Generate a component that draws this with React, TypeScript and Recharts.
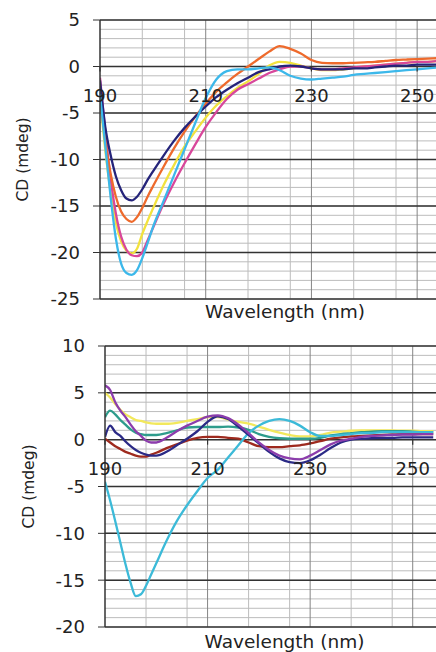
import { LineChart, Line, XAxis, YAxis, CartesianGrid, Label } from 'recharts'

const FONT = 'DejaVu Sans'

// wavelength samples (nm)
const wavelengths = [
  190, 191, 192, 193, 194, 195, 196, 197, 198, 199, 200,
  202, 204, 206, 208, 210, 212, 214, 216, 218, 220, 222, 224, 226, 228,
  230, 232, 234, 236, 238, 240, 242, 244, 246, 248, 250, 252, 254,
]

const xTicks = [190, 210, 230, 250]
const xMajorGrid = [210, 230, 250]
const xMinorGrid = [194, 198, 202, 206, 214, 218, 222, 226, 234, 238, 242, 246, 254, 258]

// top panel (mdeg)
const topNavy = [
  -1.5, -6.5, -9.5, -11.8, -13.3, -14.2, -14.4, -14.0, -13.2, -12.2, -11.3,
  -9.6, -8.0, -6.6, -5.4, -4.3, -3.3, -2.5, -1.8, -1.2, -0.6, -0.3, 0.0, 0.1, 0.0,
  -0.2, -0.3, -0.3, -0.3, -0.2, -0.2, -0.1, 0, 0.1, 0.1, 0.2, 0.2, 0.2,
]
const topOrange = [
  -3, -8, -11.5, -14, -15.6, -16.4, -16.7, -16.2, -15.2, -14.0, -12.9,
  -10.8, -8.8, -7.0, -5.4, -4.0, -2.7, -1.7, -0.8, 0, 0.8, 1.6, 2.2, 1.9, 1.4,
  0.7, 0.4, 0.35, 0.35, 0.4, 0.45, 0.5, 0.6, 0.7, 0.75, 0.8, 0.85, 0.9,
]
const topYellow = [
  -3.5, -9, -13.5, -16.8, -18.8, -19.8, -20.1, -19.6, -18.0, -16.6, -15.3,
  -12.8, -10.6, -8.6, -7.0, -5.5, -4.2, -3.2, -2.3, -1.6, -0.8, 0.1, 0.5, 0.4, 0.1,
  -0.2, -0.4, -0.4, -0.3, -0.2, 0, 0.1, 0.2, 0.3, 0.4, 0.5, 0.5, 0.6,
]
const topMagenta = [
  -1.2, -7, -12, -15.8, -18.3, -19.7, -20.3, -20.4, -20.0, -18.7, -17.4,
  -14.8, -12.5, -10.4, -8.4, -6.5, -4.9, -3.5, -2.5, -1.9, -1.3, -0.7, -0.3, 0, 0,
  -0.2, -0.3, -0.3, -0.2, -0.1, 0, 0.1, 0.2, 0.3, 0.4, 0.5, 0.5, 0.6,
]
const topCyan = [
  -3, -8.5, -14, -18.5, -21.2, -22.2, -22.4, -21.9, -20.6, -19.0, -17.3,
  -14.5, -11.7, -8.9, -6.1, -3.4, -1.4, -0.5, -0.3, -0.3, -0.2, -0.1, -0.4, -1.0, -1.3,
  -1.4, -1.3, -1.2, -1.1, -0.9, -0.8, -0.7, -0.6, -0.5, -0.4, -0.3, -0.2, -0.1,
]

// bottom panel (mdeg)
const botYellow = [
  5.0, 4.5, 3.8, 3.2, 2.7, 2.4, 2.1, 2.0, 1.85, 1.75, 1.7,
  1.7, 1.8, 2.0, 2.2, 2.4, 2.4, 2.15, 1.9, 1.7, 1.4, 1.05, 0.75, 0.5, 0.35,
  0.35, 0.5, 0.75, 0.85, 0.95, 1.0, 1.0, 1.0, 1.0, 0.95, 0.95, 0.9, 0.9,
]
const botTeal = [
  2.4, 3.1, 2.7, 2.1, 1.6, 1.1, 0.75, 0.6, 0.5, 0.5, 0.5,
  0.7, 1.0, 1.3, 1.35, 1.35, 1.35, 1.4, 1.3, 1.05, 0.6, 0.3, 0.15, 0.1, 0.1,
  0.1, 0.2, 0.45, 0.6, 0.7, 0.8, 0.85, 0.9, 0.9, 0.9, 0.85, 0.8, 0.8,
]
const botPurple = [
  5.8, 5.3, 4.0, 3.1, 2.4, 1.6, 0.9, 0.4, -0.1, -0.3, -0.3,
  0.2, 0.9, 1.5, 2.0, 2.45, 2.6, 2.3, 1.6, 0.7, -0.3, -1.1, -1.7, -2.0, -2.1,
  -1.7, -1.1, -0.5, -0.1, 0.1, 0.3, 0.4, 0.45, 0.5, 0.55, 0.55, 0.6, 0.6,
]
const botNavy = [
  0.3, 1.5, 0.8, 0.4, -0.2, -0.7, -1.1, -1.4, -1.6, -1.7, -1.7,
  -1.3, -0.6, 0.1, 0.9, 1.9, 2.5, 2.2, 1.4, 0.5, -0.4, -1.3, -2.0, -2.4, -2.5,
  -2.2, -1.6, -0.9, -0.3, 0.0, 0.1, 0.15, 0.2, 0.2, 0.25, 0.25, 0.25, 0.25,
]
const botRed = [
  0.1, -0.3, -0.7, -1.0, -1.3, -1.5, -1.7, -1.8, -1.8, -1.6, -1.4,
  -0.9, -0.5, -0.1, 0.2, 0.3, 0.3, 0.2, 0.1, -0.3, -0.7, -0.8, -0.8, -0.7, -0.6,
  -0.4, -0.15, 0.1, 0.25, 0.35, 0.4, 0.45, 0.5, 0.55, 0.6, 0.6, 0.6, 0.6,
]
const botCyan = [
  -4.5, -6.5, -8.7, -11.0, -13.3, -15.3, -16.7, -16.5, -15.6, -14.4, -13.2,
  -10.8, -8.7, -7.0, -5.5, -4.1, -3.2, -1.9, -0.6, 0.7, 1.5, 2.0, 2.2, 2.0, 1.5,
  0.8, 0.4, 0.4, 0.5, 0.6, 0.7, 0.7, 0.8, 0.8, 0.8, 0.8, 0.8, 0.8,
]

const topYTicks = [-25, -20, -15, -10, -5, 0, 5]
const botYTicks = [-20, -15, -10, -5, 0, 5, 10]

type Series = { key: string; values: number[]; color: string }

const topSeries: Series[] = [
  { key: 'yellow', values: topYellow, color: '#f2e23e' },
  { key: 'magenta', values: topMagenta, color: '#d8479b' },
  { key: 'orange', values: topOrange, color: '#ee6a2c' },
  { key: 'navy', values: topNavy, color: '#25247a' },
  { key: 'cyan', values: topCyan, color: '#3cb8ea' },
]

const botSeries: Series[] = [
  { key: 'yellow', values: botYellow, color: '#f2e85c' },
  { key: 'teal', values: botTeal, color: '#2e9c8c' },
  { key: 'red', values: botRed, color: '#9e2a1e' },
  { key: 'cyan', values: botCyan, color: '#3cbad8' },
  { key: 'navy', values: botNavy, color: '#2b2a86' },
  { key: 'purple', values: botPurple, color: '#8c3dac' },
]

function steps(from: number, to: number, step: number) {
  const out: number[] = []
  for (let v = from; v <= to; v += step) out.push(v)
  return out
}

type PanelProps = {
  series: Series[]
  yDomain: [number, number]
  yTicks: number[]
  axisWidth: number
  marginRight: number
  xAxisHeight: number
  titleOffset: number
  yTitleX: number
}

function Panel({ series, yDomain, yTicks, axisWidth, marginRight, xAxisHeight, titleOffset, yTitleX }: PanelProps) {
  const width = 480
  const height = 326
  const top = 20
  const rows = wavelengths.map((nm, i) => {
    const r: Record<string, number> = { nm }
    series.forEach((s) => (r[s.key] = s.values[i]))
    return r
  })
  const plotH = height - top - xAxisHeight
  const zeroFromBottom = (plotH * (0 - yDomain[0])) / (yDomain[1] - yDomain[0])

  const xTick = (p: any) => {
    const zy = p.y - zeroFromBottom
    return (
      <g>
        <line x1={p.x} x2={p.x} y1={zy} y2={zy + 5} stroke="#333" strokeWidth={1.2} />
        <text x={p.x} y={zy + 35} textAnchor="middle" fontSize={18} fontFamily={FONT} fill="#222">
          {p.payload.value}
        </text>
      </g>
    )
  }

  const yTitle = (p: any) => {
    const vb = p.viewBox || { y: top, height: plotH }
    const cy = vb.y + vb.height / 2
    return (
      <text
        x={yTitleX}
        y={cy}
        transform={`rotate(-90 ${yTitleX} ${cy})`}
        textAnchor="middle"
        dominantBaseline="central"
        fontSize={15.5}
        fontFamily={FONT}
        fill="#222"
      >
        CD (mdeg)
      </text>
    )
  }

  return (
    <div style={{ width: 436, height, overflow: 'hidden' }}>
      <LineChart width={width} height={height} data={rows} margin={{ top, right: marginRight, bottom: 0, left: 0 }}>
        <CartesianGrid
          horizontalValues={steps(yDomain[0], yDomain[1], 1)}
          verticalValues={xMinorGrid}
          stroke="#bcbcbc"
        />
        <CartesianGrid horizontal={false} verticalValues={xMajorGrid} stroke="#858585" />
        <CartesianGrid vertical={false} horizontalValues={yTicks} stroke="#333" strokeWidth={1.5} />
        <XAxis
          type="number"
          dataKey="nm"
          domain={[190, 260]}
          ticks={xTicks}
          allowDataOverflow
          axisLine={false}
          tickLine={false}
          tickSize={0}
          tickMargin={0}
          height={xAxisHeight}
          tick={xTick}
        >
          <Label
            value="Wavelength (nm)"
            position="insideBottom"
            offset={titleOffset}
            fontSize={18.5}
            fontFamily={FONT}
            fill="#222"
          />
        </XAxis>
        <YAxis
          type="number"
          domain={yDomain}
          ticks={yTicks}
          interval={0}
          allowDataOverflow
          width={axisWidth}
          tickSize={7}
          tickMargin={13}
          axisLine={{ stroke: '#333', strokeWidth: 1.5 }}
          tickLine={{ stroke: '#333' }}
          tick={{ fontSize: 18, fontFamily: FONT, fill: '#222' }}
        >
          <Label content={yTitle} />
        </YAxis>
        {series.map((s) => (
          <Line
            key={s.key}
            type="monotone"
            dataKey={s.key}
            stroke={s.color}
            strokeWidth={2.3}
            dot={false}
            isAnimationActive={false}
          />
        ))}
      </LineChart>
    </div>
  )
}

export default function App() {
  return (
    <div style={{ position: 'absolute', left: 0, top: 0, width: 436, height: 652, background: '#fff', overflow: 'hidden' }}>
      <Panel
        series={topSeries}
        yDomain={[-25, 5]}
        yTicks={topYTicks}
        axisWidth={100}
        marginRight={10}
        xAxisHeight={27}
        titleOffset={8}
        yTitleX={23}
      />
      <Panel
        series={botSeries}
        yDomain={[-20, 10]}
        yTicks={botYTicks}
        axisWidth={105}
        marginRight={16}
        xAxisHeight={25}
        titleOffset={4}
        yTitleX={29}
      />
    </div>
  )
}
